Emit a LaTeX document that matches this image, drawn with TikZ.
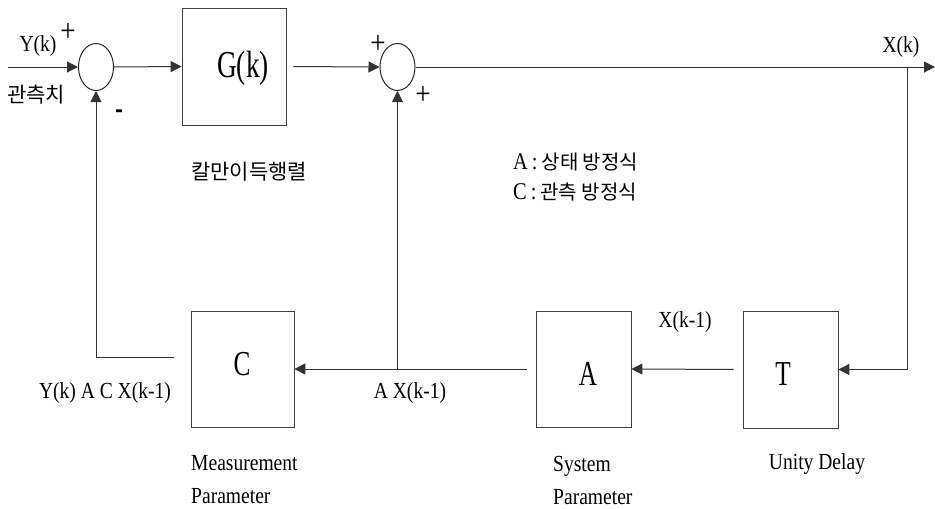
\documentclass[tikz,border=0pt]{standalone}
\usepackage{fontspec}
\usetikzlibrary{shapes.geometric,arrows.meta}
\newfontfamily\lbl[FakeStretch=0.85]{Liberation Serif}
\newfontfamily\bigserif[FakeStretch=0.72]{Liberation Serif}
\newfontfamily\kr{Noto Sans CJK KR}
\newfontfamily\plainsans{Liberation Sans}

\begin{document}
\begin{tikzpicture}[x=1pt,y=-1pt,
  wire/.style={line width=1pt,draw=black!80},
  arr/.style={wire,-{Triangle[length=11pt,width=11pt]}},
  sumnode/.style={ellipse,draw=black!85,line width=1pt,minimum width=35pt,minimum height=47pt,inner sep=0pt},
  blockbox/.style={rectangle,draw=black!75,line width=0.8pt,inner sep=0pt},
  lab/.style={font=\lbl\fontsize{23}{33}\selectfont,inner sep=0pt},
  krlab/.style={font=\kr\fontsize{21}{24}\selectfont,inner sep=0pt},
  sign/.style={font=\lbl\fontsize{32}{32}\selectfont,inner sep=0pt},
  boxtxt/.style={font=\bigserif\fontsize{35}{35}\selectfont}]
\useasboundingbox (0,0) rectangle (935,509);

% summing junctions
\node[sumnode] (s1) at (96,67) {};
\node[sumnode] (s2) at (397.5,67) {};

% blocks
\node[blockbox,minimum width=104pt,minimum height=117pt] (G) at (234,66.5) {};
\node[boxtxt,font=\bigserif\fontsize{38}{38}\selectfont] at (243,68) {G(k)};
\node[blockbox,minimum width=103pt,minimum height=116pt] (C) at (242.5,369) {};
\node[boxtxt] at (242,364) {C};
\node[blockbox,minimum width=95pt,minimum height=116pt] (A) at (583.5,369) {};
\node[boxtxt] at (588,374) {A};
\node[blockbox,minimum width=95pt,minimum height=117pt] (T) at (790.5,369.5) {};
\node[boxtxt] at (783,374) {T};

% free ends and branch points
\coordinate (in) at (8,67);
\coordinate (out) at (935,67);
\coordinate (tap) at (907,67);
\coordinate (jn) at (397.5,369);

% forward path
\draw[arr] (in) -- (s1.west);
\draw[arr] (s1.east) -- (G.west);
\draw[arr,shorten <=7pt] (G.east) -- (s2.west);
\draw[arr] (s2.east) -- (out);

% state feedback loop
\draw[arr] (tap) |- (T.east);
\draw[arr,shorten <=9pt] (T.west) -- (A.east);
\draw[arr,shorten <=9pt] (A.west) -- (C.east);
\draw[arr] (jn) -- (s2.south);
\draw[arr,shorten <=17pt] ([yshift=12pt]C.west) -| (s1.south);

% signal labels
\node[lab] (ylab) at (38,46) {Y(k)};
\node[krlab] (obs) at (36,95) {관측치};
\node[sign] (p1) at (68,32) {+};
\node[font=\plainsans\bfseries\fontsize{24}{24}\selectfont,inner sep=0pt] (m1) at (119,114) {-};
\node[sign] (p2) at (378,44) {+};
\node[sign] (p3) at (423,95) {+};
\node[lab] (xk) at (901,47) {X(k)};
\node[krlab] (gain) at (249,172) {칼만이득행렬};
\node[inner sep=0pt,anchor=west] (eqa) at (513,162) {{\lbl\fontsize{24}{24}\selectfont A\,:\,}{\kr\fontsize{20}{20}\selectfont 상태 방정식}};
\node[inner sep=0pt,anchor=west] (eqc) at (513,192) {{\lbl\fontsize{24}{24}\selectfont C\,:\,}{\kr\fontsize{20}{20}\selectfont 관측 방정식}};
\node[lab] (xk1) at (685,322) {X(k-1)};
\node[lab] (axk1) at (410,393) {A X(k-1)};
\node[lab] (yacx) at (105,393) {Y(k) A C X(k-1)};

% block captions
\node[lab,align=left,anchor=west] (mp) at (191,480) {Measurement\\Parameter};
\node[lab,align=left,anchor=west] (sp) at (553,480) {System\\Parameter};
\node[lab] (ud) at (817,464) {Unity Delay};
\end{tikzpicture}
\end{document}
